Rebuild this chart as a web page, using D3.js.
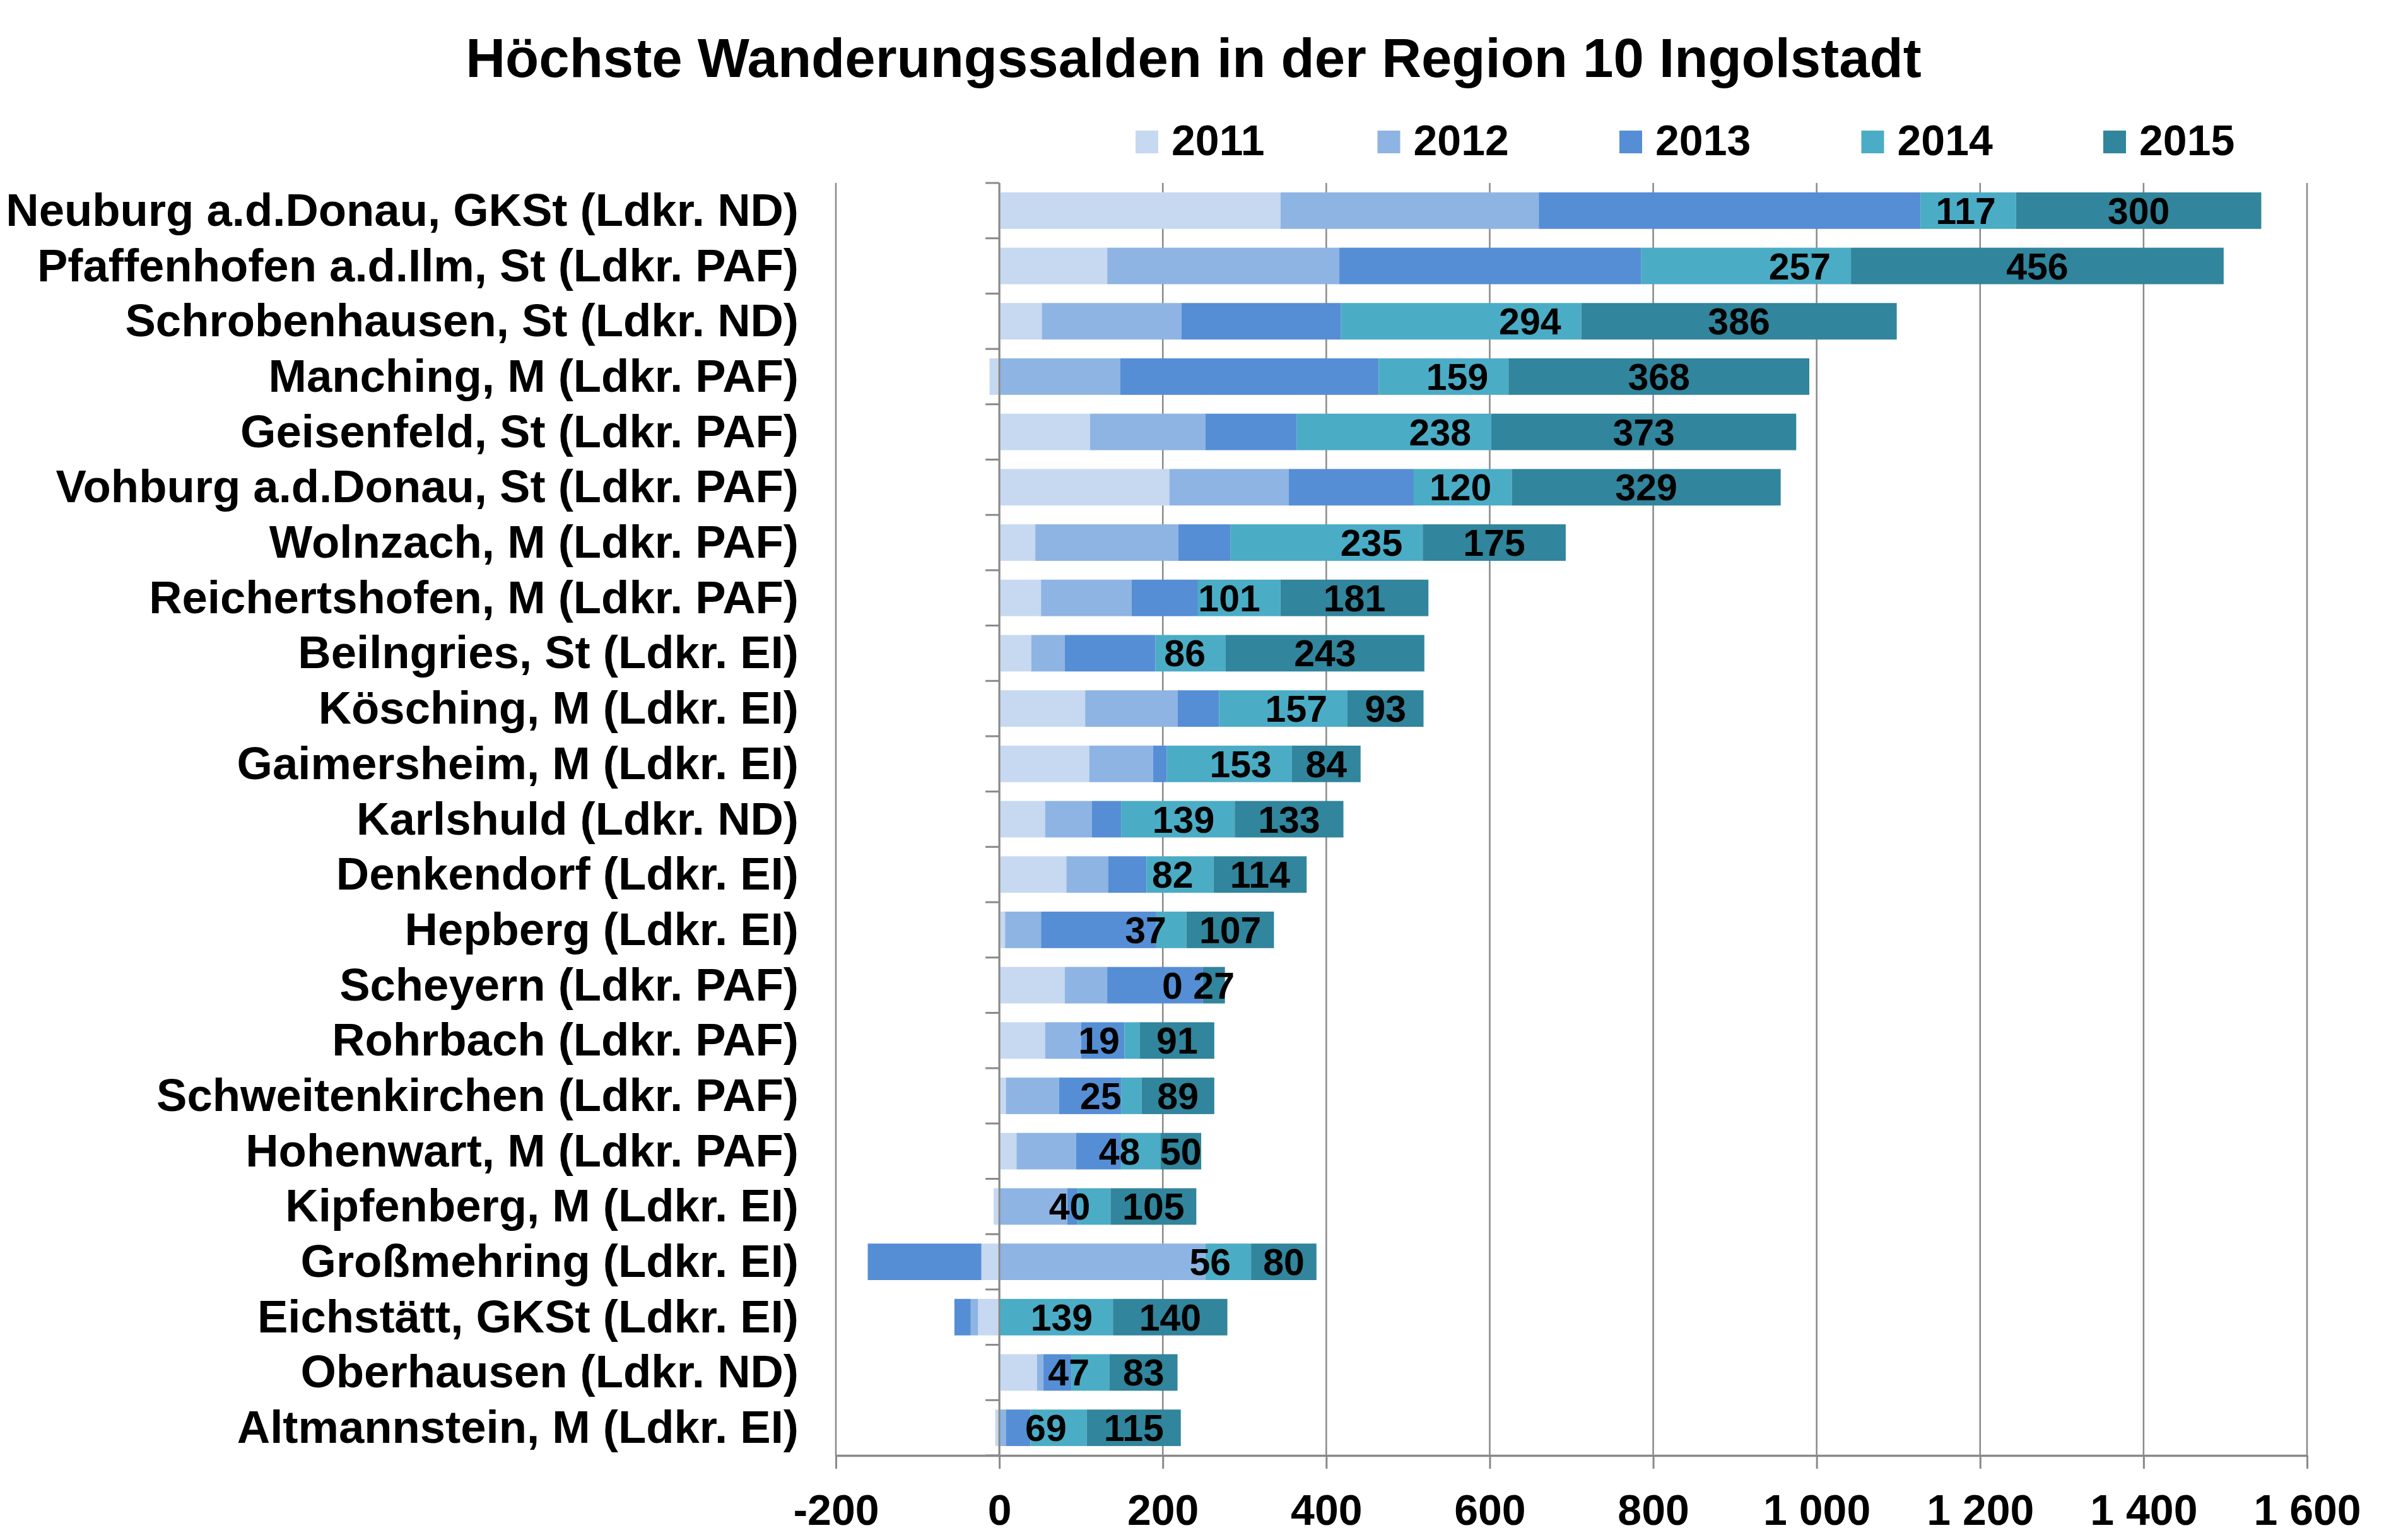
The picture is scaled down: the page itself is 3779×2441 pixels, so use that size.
<!DOCTYPE html>
<html><head><meta charset="utf-8">
<script src="https://cdn.jsdelivr.net/npm/d3@7"></script>
<style>
html,body{margin:0;padding:0;background:#fff;}
text{font-family:"Liberation Sans",Arial,sans-serif;font-weight:bold;fill:#000;}
</style></head>
<body>
<svg id="chart" width="3779" height="2441"></svg>
<script>
const title = "Höchste Wanderungssalden in der Region 10 Ingolstadt";
const categories = [
  "Neuburg a.d.Donau, GKSt (Ldkr. ND)",
  "Pfaffenhofen a.d.Ilm, St (Ldkr. PAF)",
  "Schrobenhausen, St (Ldkr. ND)",
  "Manching, M (Ldkr. PAF)",
  "Geisenfeld, St (Ldkr. PAF)",
  "Vohburg a.d.Donau, St (Ldkr. PAF)",
  "Wolnzach, M (Ldkr. PAF)",
  "Reichertshofen, M (Ldkr. PAF)",
  "Beilngries, St (Ldkr. EI)",
  "Kösching, M (Ldkr. EI)",
  "Gaimersheim, M (Ldkr. EI)",
  "Karlshuld (Ldkr. ND)",
  "Denkendorf (Ldkr. EI)",
  "Hepberg (Ldkr. EI)",
  "Scheyern (Ldkr. PAF)",
  "Rohrbach (Ldkr. PAF)",
  "Schweitenkirchen (Ldkr. PAF)",
  "Hohenwart, M (Ldkr. PAF)",
  "Kipfenberg, M (Ldkr. EI)",
  "Großmehring (Ldkr. EI)",
  "Eichstätt, GKSt (Ldkr. EI)",
  "Oberhausen (Ldkr. ND)",
  "Altmannstein, M (Ldkr. EI)"
];
const years = ["2011","2012","2013","2014","2015"];
const v2011 = [344,132,52,-12,111,208,44,51,39,105,110,56,82,7,80,56,8,21,-7,-22,-26,46,-5];
const v2012 = [316,284,171,148,141,146,175,111,41,113,78,57,51,44,52,44,65,73,83,252,-9,8,8];
const v2013 = [467,369,195,316,112,153,64,81,111,51,17,36,47,141,117,53,76,55,13,-139,-20,34,30];
const v2014 = [117,257,294,159,238,120,235,101,86,157,153,139,82,37,0,19,25,48,40,56,139,47,69];
const v2015 = [300,456,386,368,373,329,175,181,243,93,84,133,114,107,27,91,89,50,105,80,140,83,115];
const xTicks = [-200,0,200,400,600,800,1000,1200,1400,1600];
const colors = ["#C6D9F1","#8EB4E3","#558ED5","#4BACC6","#31859C"];

const seriesVals = [v2011,v2012,v2013,v2014,v2015];
const rows = categories.map((c,i)=>{
  const o = {cat:c};
  years.forEach((y,k)=>o[y]=seriesVals[k][i]);
  return o;
});

const svg = d3.select("#chart");
svg.append("rect").attr("width",3779).attr("height",2441).attr("fill","#fff");

const plotTop = 290, plotBottom = 2307;
const x = d3.scaleLinear().domain([-200,1600]).range([1325,3657]);
const y = d3.scaleBand().domain(categories).range([plotTop,plotBottom]).paddingInner(0.34).paddingOuter(0.17);
const grid = "#898989";

const loc = d3.formatLocale({decimal:",",thousands:" ",grouping:[3],currency:["","€"],minus:"-"});
const fmt = loc.format(",d");

// gridlines
svg.append("g").selectAll("line").data(xTicks).join("line")
  .attr("x1",d=>x(d)).attr("x2",d=>x(d)).attr("y1",plotTop).attr("y2",plotBottom)
  .attr("stroke",grid).attr("stroke-width",2.5);

// bars
const stack = d3.stack().keys(years).offset(d3.stackOffsetDiverging);
const stacked = stack(rows);
const layers = svg.append("g").selectAll("g").data(stacked).join("g")
  .attr("fill",(d,i)=>colors[i]);
layers.selectAll("rect").data(d=>d).join("rect")
  .attr("x",d=>x(Math.min(d[0],d[1])))
  .attr("width",d=>Math.abs(x(d[1])-x(d[0])))
  .attr("y",d=>y(d.data.cat))
  .attr("height",y.bandwidth());

// category axis line at 0 with ticks at band boundaries
const step = y.step();
svg.append("line").attr("x1",x(0)).attr("x2",x(0)).attr("y1",plotTop).attr("y2",plotBottom)
  .attr("stroke",grid).attr("stroke-width",3);
svg.append("g").selectAll("line").data(d3.range(categories.length+1)).join("line")
  .attr("x1",x(0)-22).attr("x2",x(0)).attr("y1",i=>plotTop+i*step).attr("y2",i=>plotTop+i*step)
  .attr("stroke",grid).attr("stroke-width",3);

// x axis
const ax = svg.append("g").attr("transform",`translate(0,${plotBottom})`)
  .call(d3.axisBottom(x).tickValues(xTicks).tickSize(21).tickSizeOuter(0).tickFormat(fmt));
ax.select(".domain").attr("stroke",grid).attr("stroke-width",3.5);
ax.selectAll(".tick line").attr("stroke",grid).attr("stroke-width",3);
ax.selectAll(".tick text").attr("font-size",68).attr("font-family","'Liberation Sans',Arial,sans-serif")
  .attr("font-weight","bold").attr("fill","#000").attr("dy",0).attr("y",110);

// category labels
svg.append("g").selectAll("text").data(categories).join("text")
  .attr("x",1266).attr("y",d=>y(d)+y.bandwidth()/2+24)
  .attr("text-anchor","end").attr("font-size",72.5).text(d=>d);

// data labels: 2014 inside end (end of positive stack), 2015 centered
const posEnd = rows.map(r=>years.slice(0,4).reduce((s,k)=>s+Math.max(0,r[k]),0));
svg.append("g").selectAll("text").data(rows).join("text")
  .attr("x",(d,i)=>x(posEnd[i])-32).attr("y",d=>y(d.cat)+y.bandwidth()/2+21)
  .attr("text-anchor","end").attr("font-size",59).text(d=>d["2014"]);
svg.append("g").selectAll("text").data(stacked[4]).join("text")
  .attr("x",d=>(x(d[0])+x(d[1]))/2).attr("y",d=>y(d.data.cat)+y.bandwidth()/2+21)
  .attr("text-anchor","middle").attr("font-size",59).text(d=>d.data["2015"]);

// title
svg.append("text").attr("x",1892).attr("y",122).attr("text-anchor","middle")
  .attr("font-size",87).text(title);

// legend
const lg = svg.append("g").selectAll("g").data(years).join("g")
  .attr("transform",(d,i)=>`translate(${1800+i*383.5},0)`);
lg.append("rect").attr("x",0).attr("y",207).attr("width",36).attr("height",36).attr("fill",(d,i)=>colors[i]);
lg.append("text").attr("x",57).attr("y",246).attr("font-size",68).text(d=>d);
</script>
</body></html>
